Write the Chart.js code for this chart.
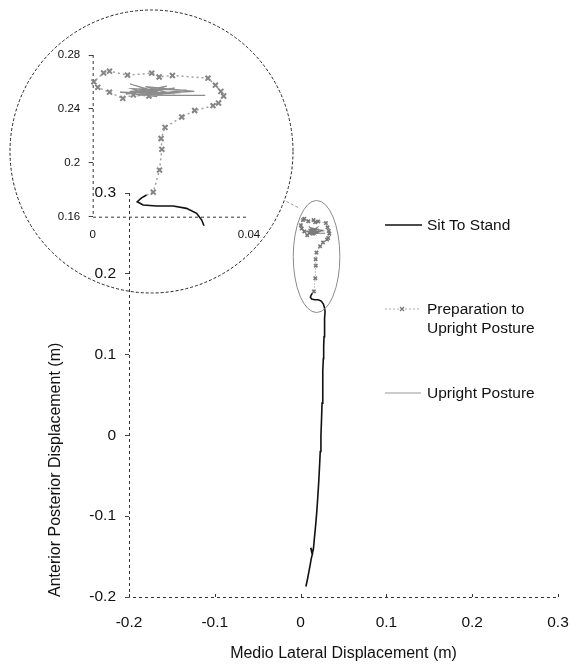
<!DOCTYPE html>
<html>
<head>
<meta charset="utf-8">
<title>Sit to stand COP trajectory</title>
<script src="https://cdn.jsdelivr.net/npm/chart.js@4.4.1/dist/chart.umd.min.js"></script>
<style>
  body { margin: 0; background: #fff; font-family: "Liberation Sans", Arial, sans-serif; }
  .wrap { position: relative; width: 570px; height: 664px; overflow: hidden; }
  #main { position: absolute; left: 0; top: 0; }
  #inset { position: absolute; left: 10px; top: 10px; }
  #lgsym { position: absolute; left: 0; top: 0; }
  .lg { position: absolute; left: 427px; font-size: 15.5px; line-height: 19.4px; color: #111; white-space: nowrap; }
</style>
</head>
<body>
<div class="wrap">
  <canvas id="main" width="570" height="664"></canvas>
  <canvas id="inset" width="283" height="283"></canvas>
  <svg id="lgsym" width="570" height="664">
    <line x1="385" y1="225" x2="422" y2="225" stroke="#111" stroke-width="1.5"/>
    <line x1="385" y1="309" x2="421" y2="309" stroke="#aaa" stroke-width="1" stroke-dasharray="2,2"/>
    <path d="M400 307 L404 311 M404 307 L400 311" stroke="#777" stroke-width="1.3"/>
    <line x1="385" y1="393" x2="421" y2="393" stroke="#999" stroke-width="1"/>
  </svg>
  <div class="lg" style="top:215px">Sit To Stand</div>
  <div class="lg" style="top:298.5px">Preparation to<br>Upright Posture</div>
  <div class="lg" style="top:383px">Upright Posture</div>
</div>
<script>
// ticks
const xTicks = [-0.2, -0.1, 0, 0.1, 0.2, 0.3];
const yTicks = [-0.2, -0.1, 0, 0.1, 0.2, 0.3];
const insetXTicks = [0, 0.04];
const insetYTicks = [0.16, 0.2, 0.24, 0.28];

// sit to stand (black), bottom -> top
const sitX = [0.0062, 0.0080, 0.0098, 0.0112, 0.0125, 0.0140, 0.0118, 0.0135, 0.0150, 0.0160, 0.0172, 0.0186,
  0.0198, 0.0210, 0.0220, 0.0229, 0.0237, 0.0244, 0.0250, 0.0256, 0.0261, 0.0265, 0.0269, 0.0273, 0.0277,
  0.0282, 0.0285, 0.0279, 0.0266, 0.0240, 0.0206, 0.0164, 0.0129, 0.0114, 0.0125, 0.0138];
const sitY = [-0.187, -0.178, -0.168, -0.160, -0.152, -0.146, -0.139, -0.147, -0.140, -0.128, -0.115, -0.098,
  -0.080, -0.060, -0.040, -0.020, 0.000, 0.020, 0.040, 0.060, 0.080, 0.095, 0.110, 0.122, 0.135,
  0.145, 0.1531, 0.1575, 0.1625, 0.1662, 0.1679, 0.1679, 0.1687, 0.1711, 0.1740, 0.1761];

// preparation to upright posture (grey crosses)
const prepX = [0.0138, 0.0155, 0.0171, 0.0177, 0.0175, 0.0185, 0.0228, 0.0261, 0.0308, 0.0322, 0.0335, 0.0328,
  0.0314, 0.0295, 0.0204, 0.0170, 0.0151, 0.0089, 0.0043, 0.0028, 0.0003, 0.0013, 0.0043, 0.0077, 0.0104, 0.0144];
const prepY = [0.1761, 0.1782, 0.1946, 0.2100, 0.2180, 0.2263, 0.2340, 0.2388, 0.2424, 0.2443, 0.2496, 0.2530,
  0.2576, 0.2628, 0.2648, 0.2637, 0.2665, 0.2651, 0.2680, 0.2667, 0.2601, 0.2560, 0.2524, 0.2478, 0.2504, 0.2496];

// upright posture (grey scribble)
const upX = [0.0144, 0.0118, 0.0175, 0.0096, 0.0150, 0.0210, 0.0085, 0.0190, 0.0125, 0.0240, 0.0100, 0.0165,
  0.0070, 0.0200, 0.0135, 0.0260, 0.0110, 0.0180, 0.0095, 0.0225, 0.0140, 0.0200, 0.0115, 0.0288];
const upY = [0.2496, 0.2545, 0.2520, 0.2585, 0.2535, 0.2555, 0.2510, 0.2570, 0.2500, 0.2540, 0.2550, 0.2490,
  0.2525, 0.2515, 0.2565, 0.2530, 0.2505, 0.2545, 0.2530, 0.2520, 0.2510, 0.2500, 0.2502, 0.2501];

Chart.defaults.font.family = '"Liberation Sans", Arial, sans-serif';
Chart.defaults.color = '#111';

const pts = (xs, ys) => xs.map((x, i) => ({ x: x, y: ys[i] }));
const fmt = v => String(Math.round(v * 100) / 100);
const setTicks = arr => s => { s.ticks = arr.map(v => ({ value: v })); };

function makeDatasets(big) {
  const clip = big ? { left: 6, top: 6, right: 6, bottom: 9 } : undefined;
  return [
    {
      label: 'Upright Posture', data: pts(upX, upY), showLine: true,
      borderColor: big ? '#8c8c8c' : '#7a7a7a', borderWidth: big ? 1.2 : 1.1, pointRadius: 0, clip: clip
    },
    {
      label: 'Preparation to Upright Posture', data: pts(prepX, prepY), showLine: true,
      borderColor: '#a0a0a0', borderWidth: big ? 1.5 : 0.9, borderDash: big ? [2, 3] : [1.5, 1.5],
      pointStyle: 'crossRot', pointRadius: c => c.dataIndex === 0 ? 0 : (big ? 3.5 : 2.4),
      pointBorderColor: big ? '#858585' : '#777', pointBorderWidth: big ? 2 : 1.6, clip: clip
    },
    {
      label: 'Sit To Stand', data: pts(sitX, sitY), showLine: true,
      borderColor: '#111', borderWidth: 1.6, pointRadius: 0, clip: clip
    }
  ];
}

// dashed axis lines (border.dash only affects grid lines in v4)
const dashedAxes = {
  id: 'dashedAxes',
  beforeDatasetsDraw(chart, args, opts) {
    const { ctx, chartArea: a } = chart;
    const sx = chart.scales.x;
    ctx.save();
    ctx.strokeStyle = '#333';
    ctx.lineWidth = 1;
    ctx.setLineDash([3, 3]);
    ctx.beginPath();
    ctx.moveTo(a.left + 0.5, a.top);
    ctx.lineTo(a.left + 0.5, a.bottom + 0.5);
    ctx.lineTo(a.right, a.bottom + 0.5);
    ctx.stroke();
    if (opts.xMarks) {
      ctx.setLineDash([]);
      ctx.beginPath();
      sx.ticks.forEach(t => {
        const px = Math.round(sx.getPixelForValue(t.value)) + 0.5;
        ctx.moveTo(px, a.bottom);
        ctx.lineTo(px, a.bottom - 3);
      });
      ctx.stroke();
    }
    ctx.restore();
  }
};

// zoom circle, ellipse and connector on the main canvas
const decor = {
  id: 'decor',
  afterDraw(chart) {
    const ctx = chart.ctx;
    const sx = chart.scales.x, sy = chart.scales.y;
    ctx.save();
    ctx.lineWidth = 1;
    ctx.strokeStyle = '#222';
    ctx.setLineDash([3, 2]);
    ctx.beginPath();
    ctx.arc(151.5, 151.5, 141.5, 0, Math.PI * 2);
    ctx.stroke();

    ctx.strokeStyle = '#999';
    ctx.beginPath();
    ctx.moveTo(286.5, 201.5);
    ctx.lineTo(300, 208.5);
    ctx.stroke();

    ctx.setLineDash([]);
    ctx.strokeStyle = '#8a8a8a';
    ctx.beginPath();
    ctx.ellipse(sx.getPixelForValue(0.0186), sy.getPixelForValue(0.2214), 23.3, 56, 0, 0, Math.PI * 2);
    ctx.stroke();
    ctx.restore();
  }
};

new Chart(document.getElementById('main'), {
  type: 'scatter',
  data: { datasets: makeDatasets(false) },
  options: {
    responsive: false,
    animation: false,
    layout: { padding: { left: 46, top: 193, right: 12, bottom: 0 } },
    plugins: { legend: { display: false }, tooltip: { enabled: false }, dashedAxes: { xMarks: true } },
    scales: {
      x: {
        type: 'linear', min: -0.2, max: 0.3,
        afterBuildTicks: setTicks(xTicks),
        afterFit: s => { s.height = 67; },
        border: { display: false },
        // invisible tick marks push the labels down without widening the right padding
        grid: { display: true, drawOnChartArea: false, drawTicks: true, tickLength: 16, tickColor: 'rgba(0,0,0,0)' },
        ticks: { padding: 0, font: { size: 15.5 }, callback: fmt },
        title: { display: true, text: 'Medio Lateral Displacement (m)', font: { size: 16 }, padding: { top: 0, bottom: 1 } }
      },
      y: {
        type: 'linear', min: -0.2, max: 0.3,
        afterBuildTicks: setTicks(yTicks),
        afterFit: s => { s.width = 83; },
        border: { display: false },
        grid: { display: true, drawOnChartArea: false, drawTicks: true, tickLength: 4, tickColor: '#444' },
        ticks: { padding: 9, font: { size: 15.5 }, callback: fmt },
        title: { display: true, text: 'Anterior Posterior Displacement (m)', align: 'start', font: { size: 16 }, padding: 0 }
      }
    }
  },
  plugins: [dashedAxes, decor]
});

// magnified inset
new Chart(document.getElementById('inset'), {
  type: 'scatter',
  data: { datasets: makeDatasets(true) },
  options: {
    responsive: false,
    animation: false,
    layout: { padding: { left: 20, top: 45, right: 44, bottom: 0 } },
    plugins: { legend: { display: false }, tooltip: { enabled: false }, dashedAxes: { xMarks: false } },
    scales: {
      x: {
        type: 'linear', min: 0, max: 0.04,
        afterBuildTicks: setTicks(insetXTicks),
        afterFit: s => { s.height = 76.3; },
        border: { display: false },
        grid: { display: true, drawOnChartArea: false, drawTicks: false },
        ticks: { padding: 11, font: { size: 11.5 }, callback: fmt }
      },
      y: {
        type: 'linear', min: 0.16, max: 0.28,
        afterBuildTicks: setTicks(insetYTicks),
        afterFit: s => { s.width = 62.7; },
        border: { display: false },
        grid: { display: true, drawOnChartArea: false, drawTicks: true, tickLength: 4, tickColor: '#444' },
        ticks: { padding: 8.5, font: { size: 11.5 }, callback: fmt }
      }
    }
  },
  plugins: [dashedAxes]
});
</script>
</body>
</html>
